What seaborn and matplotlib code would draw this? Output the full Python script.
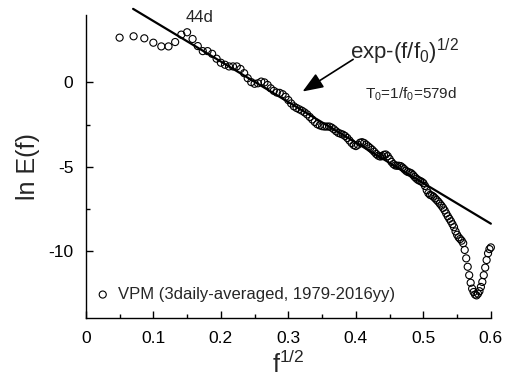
import numpy as np
import pandas as pd
import matplotlib
matplotlib.use("Agg")
import matplotlib.pyplot as plt
import seaborn as sns

# frequency grid (1/day) and spectrum values
freq = np.arange(1, 145) * 0.0025
ln_E = [
    2.66, 2.74, 2.62, 2.36, 2.14, 2.14, 2.40, 2.84, 2.98, 2.58,
    2.16, 1.86, 1.86, 1.70, 1.41, 1.17, 1.05, 0.95, 0.95, 0.95,
    0.80, 0.55, 0.25, 0.02, -0.08, -0.05, 0.05, 0.00, -0.15, -0.35,
    -0.50, -0.60, -0.62, -0.70, -0.85, -1.05, -1.25, -1.42, -1.52, -1.60,
    -1.68, -1.78, -1.90, -2.05, -2.20, -2.35, -2.48, -2.55, -2.60, -2.62,
    -2.62, -2.62, -2.68, -2.78, -2.90, -3.00, -3.05, -3.10, -3.18, -3.30,
    -3.45, -3.60, -3.72, -3.78, -3.70, -3.58, -3.55, -3.60, -3.70, -3.80,
    -3.90, -4.00, -4.12, -4.25, -4.35, -4.40, -4.38, -4.30, -4.28, -4.38,
    -4.55, -4.72, -4.85, -4.93, -4.95, -4.95, -4.97, -5.05, -5.15, -5.25,
    -5.32, -5.35, -5.40, -5.50, -5.62, -5.72, -5.80, -5.85, -5.90, -5.98,
    -6.15, -6.40, -6.58, -6.68, -6.72, -6.78, -6.88, -6.98, -7.08, -7.20,
    -7.32, -7.45, -7.60, -7.78, -7.95, -8.10, -8.25, -8.42, -8.60, -8.85,
    -9.05, -9.20, -9.30, -9.40, -9.55, -9.95, -10.45, -10.95, -11.45, -11.90,
    -12.25, -12.45, -12.60, -12.65, -12.55, -12.40, -12.15, -11.85, -11.45, -11.00,
    -10.55, -10.15, -9.90, -9.80,
]
fit_x = [0.07, 0.60]
fit_y = [4.37, -8.39]

x_ticks = [0, 0.1, 0.2, 0.3, 0.4, 0.5, 0.6]
x_tick_labels = ["0", "0.1", "0.2", "0.3", "0.4", "0.5", "0.6"]
y_ticks = [0, -5, -10]
y_tick_labels = ["0", "-5", "-10"]

sns.set_theme(style="ticks")
plt.rcParams["font.family"] = ["Liberation Sans", "DejaVu Sans"]
plt.rcParams["axes.unicode_minus"] = False
plt.rcParams["mathtext.fontset"] = "custom"
plt.rcParams["mathtext.rm"] = "Liberation Sans"
plt.rcParams["mathtext.it"] = "Liberation Sans"

df = pd.DataFrame({"x": np.sqrt(freq), "y": ln_E})
fit = pd.DataFrame({"x": fit_x, "y": fit_y})

fig = plt.figure(figsize=(5.05, 3.87), dpi=100)
ax = fig.add_axes([0.170, 0.178, 0.802, 0.783])

sns.scatterplot(data=df, x="x", y="y", ax=ax, marker="o", s=26,
                facecolors="none", edgecolor="black", linewidth=0.8,
                clip_on=False, zorder=3, legend=False)
sns.lineplot(data=fit, x="x", y="y", ax=ax, color="black", linewidth=1.6,
             clip_on=False, zorder=4)

ax.set_xlim(0, 0.6)
ax.set_ylim(-14, 4)
ax.set_xticks(x_ticks)
ax.set_xticklabels(x_tick_labels)
ax.set_yticks(y_ticks)
ax.set_yticklabels(y_tick_labels)
ax.set_xticks([0.05, 0.15, 0.25, 0.35, 0.45, 0.55], minor=True)
ax.set_yticks([-2.5, -7.5], minor=True)
ax.tick_params(which="major", direction="in", length=5, width=1, labelsize=12.5,
               color="black", labelcolor="black", pad=9)
ax.tick_params(which="minor", direction="in", length=3, width=1, color="black")
for s in ["top", "right"]:
    ax.spines[s].set_visible(False)
for s in ["left", "bottom"]:
    ax.spines[s].set_linewidth(1.0)
    ax.spines[s].set_color("black")

ax.set_xlabel("f$^{1/2}$", fontsize=18, labelpad=4)
ax.set_ylabel("ln E(f)", fontsize=18, labelpad=6)

ax.text(0.168, 3.85, "44d", fontsize=12, ha="center", va="center")
ax.text(0.392, 1.8, "exp-(f/f$_0$)$^{1/2}$", fontsize=16, ha="left", va="center")
ax.text(0.414, -0.7, "T$_0$=1/f$_0$=579d", fontsize=11, ha="left", va="center")
ax.annotate("", xy=(0.321, -0.54), xytext=(0.396, 1.37),
            arrowprops=dict(arrowstyle="-|>,head_length=0.9,head_width=0.35",
                            color="black", lw=1.2, mutation_scale=14,
                            shrinkA=0, shrinkB=0))

ax.scatter([0.025], [-12.6], s=26, facecolors="none", edgecolors="black",
           linewidths=0.8)
ax.text(0.048, -12.6, "VPM (3daily-averaged, 1979-2016yy)", fontsize=12,
        ha="left", va="center")

fig.savefig("out.png", dpi=100)
